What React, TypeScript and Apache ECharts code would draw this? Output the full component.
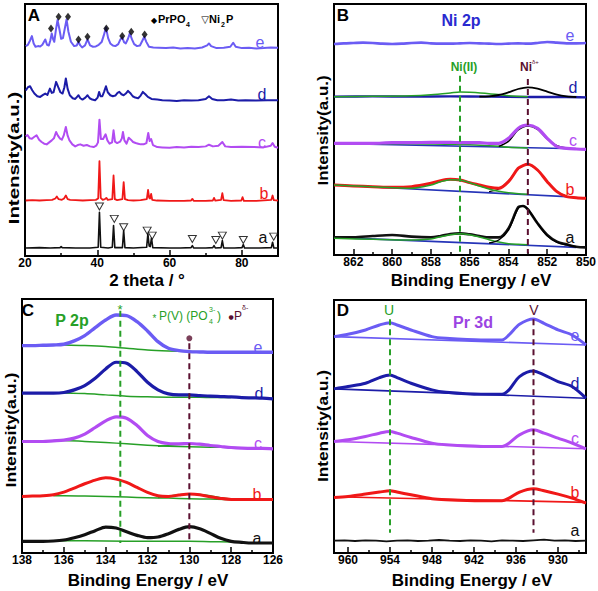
import { useEffect, useRef } from "react";
import * as echarts from "echarts";

// ================= DATA =================
// Panel A – XRD patterns (2θ, offset intensity)
const A_E = [[20.2,628],[20.8,632],[21.4,645],[21.9,658],[22.4,636],[22.9,626],[23.6,628],[24.2,627],[24.8,632],[25.6,648],[26.1,632],[26.6,630],[27.0,645],[27.4,666],[27.8,648],[28.1,641],[28.6,680],[29.0,706],[29.5,680],[30.0,650],[30.5,652],[31.0,680],[31.5,708],[32.0,672],[32.7,641],[33.6,628],[34.3,630],[34.8,641],[35.3,630],[35.8,624],[36.6,630],[37.3,648],[38.0,630],[38.8,626],[39.6,627],[40.4,632],[41.2,640],[41.8,660],[42.4,684],[43.0,652],[43.6,636],[44.3,630],[45.0,628],[45.8,634],[46.4,648],[46.9,654],[47.4,640],[47.9,636],[48.5,650],[49.0,666],[49.6,648],[50.2,634],[51.0,628],[51.8,630],[52.5,645],[53.0,656],[53.6,640],[54.3,626],[55.5,624],[57,623],[59,622],[61,624],[63,621],[65,622],[67,621],[69,624],[70.4,630],[70.9,636],[71.5,628],[73,622],[75,623],[76.8,626],[77.6,638],[78.3,626],[80,622],[82,623],[84,621],[86,622],[88,624],[90,623]];
const A_D = [[20.2,495],[20.8,505],[21.4,508],[22.0,496],[22.6,486],[23.4,478],[24.2,476],[25.0,482],[25.6,486],[26.2,482],[26.9,501],[27.4,488],[27.9,490],[28.6,521],[29.2,505],[29.8,490],[30.4,486],[30.9,505],[31.3,531],[31.8,500],[32.4,481],[33.2,472],[33.9,470],[34.4,476],[34.8,481],[35.3,472],[35.9,468],[36.7,474],[37.3,481],[37.9,472],[38.6,468],[39.4,466],[40.1,474],[40.5,491],[40.9,478],[41.4,478],[41.9,492],[42.4,508],[42.9,490],[43.6,481],[44.3,478],[45.0,480],[45.6,488],[46.1,491],[46.7,484],[47.3,481],[47.9,486],[48.5,494],[49.1,488],[49.8,478],[50.5,474],[51.3,472],[52.0,480],[52.6,491],[53.3,484],[54.0,476],[55,470],[56.6,468],[58,466],[60,465],[62,464],[64,466],[66,465],[68,466],[70,470],[70.9,478],[71.8,470],[73.2,466],[75,466],[77,468],[79,465],[81,466],[84,465],[87,466],[90,466]];
const A_C = [[20.2,358],[20.7,362],[21.3,352],[21.9,351],[22.5,356],[23.2,361],[23.9,348],[24.6,341],[25.3,336],[26.0,334],[26.7,340],[27.4,346],[28.0,352],[28.6,371],[29.1,360],[29.7,351],[30.2,348],[30.7,360],[31.3,386],[31.8,360],[32.3,346],[33.1,334],[33.9,328],[34.6,332],[35.3,334],[36.2,330],[37.1,332],[38.0,328],[39.0,326],[39.7,330],[40.2,340],[40.6,408],[41.0,350],[41.6,350],[42.3,364],[42.8,346],[43.4,336],[44.1,340],[44.5,376],[44.9,342],[45.5,338],[46.3,342],[46.8,352],[47.1,371],[47.5,346],[48.1,336],[48.7,354],[49.3,348],[49.9,341],[50.6,338],[51.3,336],[52.0,334],[52.8,334],[53.6,338],[54.1,368],[54.5,344],[54.9,350],[55.4,332],[56.6,326],[58,325],[60,324],[62,326],[64,325],[66,327],[68,326],[70,328],[70.9,333],[72,328],[73.5,330],[74.6,341],[75.4,328],[77,326],[80,327],[83.4,326],[86,325],[88,330],[88.5,338],[89.1,327],[90,324]];
const A_B = [[20.2,166],[22,167],[24,166],[26,167],[27.5,168],[28.4,172],[28.8,178],[29.3,170],[30.2,168],[30.8,172],[31.3,181],[31.8,170],[32.5,168],[34,167],[36,166],[38,167],[39.6,168],[40.25,172],[40.6,284],[40.95,174],[41.5,168],[42.1,170],[42.5,174],[42.9,168],[44.15,170],[44.5,241],[44.85,170],[45.5,167],[46.95,170],[47.3,221],[47.65,170],[48.5,167],[50,166],[52,167],[53.7,170],[54.05,198],[54.35,174],[54.6,172],[54.9,186],[55.2,168],[56.5,166],[60,165],[64,165],[65.95,166],[66.3,171],[66.65,165],[70,165],[71.95,166],[72.3,174],[72.65,166],[74.25,168],[74.6,188],[74.95,167],[77,165],[79.85,166],[80.2,176],[80.55,165],[84,165],[88.15,168],[88.5,181],[88.85,167],[90,166]];
const A_A = [[20.2,24],[24,25],[27,24],[29.7,25],[30,28],[30.3,25],[34,24],[38,24],[40.25,26],[40.6,131],[40.95,26],[43,24],[44.15,26],[44.5,91],[44.85,25],[46.95,25],[47.3,76],[47.65,25],[50,24],[53.65,26],[54.0,66],[54.35,30],[54.65,28],[55.0,54],[55.35,25],[60,24],[63,24],[65.95,25],[66.3,31],[66.65,24],[70,24],[71.95,25],[72.3,31],[72.65,24],[74.25,25],[74.6,46],[74.95,24],[78,24],[80.05,25],[80.4,34],[80.75,24],[85,24],[88.15,25],[88.5,41],[88.85,24],[90,24]];
const A_PRPO4_MARKS = [[27.2,681],[29.3,716],[31.9,716],[34.8,648],[37.3,656],[42.5,681],[46.9,658],[49.4,671],[53.1,663]];
const A_NI2P_MARKS = [[40.6,148],[44.7,111],[47.3,86],[53.8,76],[55.2,61],[66.3,51],[72.8,48],[74.6,61],[80.4,48],[88.8,58]];
const A_TICKS = [20, 40, 60, 80];
const A_MINOR = [30, 50, 70];

// Panel B – Ni 2p
const B_X = [863,862,861,860,859,858,857.5,857,856.5,856,855.5,855,854.5,854,853.5,853.25,853,852.5,852,851.5,851,850.5,850];
const B_A = [53,53,57,60,55,53,57,63,65,62,57,53,53,80,143,147,137,95,60,40,32,25,23];
const B_B = [210,207,205,203,205,215,223,227,225,217,210,203,200,220,260,268,272,255,220,190,175,172,170];
const B_C = [335,335,335,337,337,338,338,338,337,337,337,335,335,350,380,388,390,380,350,325,320,318,317];
const B_D = [[863,475],[861,476],[859,475],[857,476],[855,475],[853,474],[851,474],[850,473]];
const B_E = [[863,633],[862.5,635],[862,636],[861.5,637],[861,636],[860.5,634],[860,633],[859.5,634],[859,636],[858.5,637],[858,635],[857.5,634],[857,634],[856.5,635],[856,636],[855.5,635],[855,634],[854.5,633],[854,634],[853.5,635],[853,634],[852.5,636],[852,639],[851.5,637],[851,635],[850.5,635],[850,636]];
const B_BG_A = [[863,53],[850.5,23]];
const B_BG_B = [[863,210],[851,175]];
const B_BG_C = [[863,335],[850,318]];
const B_NI2_A = [[863,50],[861,47],[859,45],[858,48],[857.5,55],[857,61],[856.5,64],[856,61],[855.5,54],[855,46],[854.5,39],[854,34],[853.5,32],[853,31]];
const B_NI2_B = [[863,210],[861,205],[859,200],[858,210],[857.5,220],[857,226],[856.5,225],[856,217],[855.5,207],[855,198],[854.5,191],[854,187],[853,182]];
const B_NI2_C = [[863,335],[860,334],[858,333],[856,331],[855,328],[854.5,326],[854,323],[853,321]];
const B_NI2_D = [[863,475],[861,476],[859,478],[858,481],[857,486],[856.5,489],[856,488],[855,484],[854,478],[853,475]];
const B_NID_A = [[855,36],[854.5,45],[854,75],[853.5,140],[853.25,147],[853,138],[852.5,95],[852,58],[851.5,38],[851,30],[850.5,25]];
const B_NID_B = [[855,190],[854.5,198],[854,222],[853.5,258],[853,271],[852.5,254],[852,219],[851.5,190],[851,177]];
const B_NID_C = [[854.5,326],[854,341],[853.5,375],[853,387],[852.5,377],[852,348],[851.5,328],[851,321]];
const B_NID_D = [[855.5,475],[855,476],[854.5,480],[854,488],[853.5,498],[853,503],[852.5,499],[852,490],[851.5,481],[851,476],[850.5,474]];
const B_NI2_POS = 856.5;
const B_NID_POS = 853;
const B_TICKS = [850, 852, 854, 856, 858, 860, 862];
const B_MINOR = [851, 853, 855, 857, 859, 861];

// Panel C – P 2p
const C_X = [138,137.5,137,136.5,136,135.5,135,134.5,134,133.5,133,132.5,132,131.5,131,130.5,130,129.5,129,128.5,128,127.5,127,126.5,126];
const C_E = [623,623,624,625,627,637,653,677,700,715,713,695,667,635,615,608,605,604,603,603,603,603,603,603,603];
const C_D = [480,480,480,480,482,490,503,525,553,573,570,545,513,490,478,475,475,473,471,470,469,467,466,465,463];
const C_C = [335,335,335,337,339,345,357,377,397,409,405,383,353,335,329,328,329,327,323,320,317,315,314,314,313];
const C_B = [170,171,172,175,183,195,208,219,226,222,212,197,182,172,170,174,177,175,169,164,161,161,161,161,161];
const C_A = [35,35,35,36,39,46,55,67,78,75,64,53,46,48,58,71,79,73,59,44,35,32,30,30,30];
const C_BG_E = [[136.5,625],[136,625],[135,623],[134,620],[133,615],[132,610],[131,607],[130,605],[129,604],[128,603]];
const C_BG_D = [[136.5,481],[136,481],[135,479],[134,475],[133,471],[132,469],[131,468],[130,468],[129,467],[128,467]];
const C_BG_C = [[136.5,338],[136,338],[135,335],[134,332],[133,328],[132,324],[131,321],[130,319],[129,318],[128,317],[127.5,316]];
const C_BG_B = [[136.5,172],[136,172],[135,171],[134,170],[133,168],[132,166],[131,165],[130,163],[129,162],[128,161],[127.5,161]];
const C_BG_A = [[136.5,37],[136,37],[134,36],[132,35],[130,35],[129,34],[128,33]];
const C_PD_C = [[131.5,321],[131,323],[130.5,326],[130,328],[129.5,327],[129,323],[128.5,319],[128,317]];
const C_PD_B = [[131.5,167],[131,171],[130.5,175],[130,177],[129.5,176],[129,172],[128.5,166],[128,162]];
const C_PV_POS = 133.3;
const C_PD_POS = 130;
const C_TICKS = [126, 128, 130, 132, 134, 136, 138];
const C_MINOR = [127, 129, 131, 133, 135, 137];

// Panel D – Pr 3d
const D_X = [962,960,957.5,955.5,954,953,951,948,946,941,938,937,935.5,933.5,932,930,928,926];
const D_E = [650,657,670,685,692,685,670,650,645,640,640,655,687,703,690,670,655,625];
const D_D = [493,500,510,527,535,527,510,490,483,477,477,490,530,547,535,515,500,465];
const D_C = [335,340,350,360,365,360,347,330,325,320,320,330,355,370,360,345,330,313];
const D_B = [167,170,177,183,187,183,175,163,160,157,157,165,183,193,187,177,165,150];
const D_A = [[962,37],[960.5,38],[959,36],[957.5,38],[956,37],[954.5,35],[953,37],[951.5,38],[950,36],[948.5,37],[947,39],[945.5,37],[944,36],[942.5,38],[941,37],[939.5,35],[938,38],[936.5,37],[935,36],[933.5,38],[932,40],[930.5,37],[929,38],[927.5,36],[926,37]];
const D_BG_E = [[962,650],[926,625]];
const D_BG_D = [[962,493],[926,465]];
const D_BG_C = [[962,335],[926,313]];
const D_BG_B = [[962,169],[926,152]];
const D_U_POS = 954;
const D_V_POS = 933.5;
const D_TICKS = [930, 936, 942, 948, 954, 960];
const D_MINOR = [927, 933, 939, 945, 951, 957];

// ================= STYLE =================
const FONT = "'Liberation Sans', Arial, Helvetica, sans-serif";
const COL = { a: "#111111", b: "#f01818", c: "#b24cf2", d: "#1c1ca8", e: "#6b5cf4" };
const GREEN = "#27a027";
const BGBLUE = "#2634b8";
const MAROON = "#5a1030";

const GRIDS = [
  { left: 25, top: 4, width: 253, height: 252 },
  { left: 334, top: 4, width: 252, height: 251 },
  { left: 22, top: 299, width: 251, height: 254 },
  { left: 334, top: 300, width: 252, height: 253 },
];
const AXES = [
  { min: 20, max: 90, inverse: false, major: A_TICKS, minor: A_MINOR, ymax: 754 },
  { min: 850, max: 863, inverse: true, major: B_TICKS, minor: B_MINOR, ymax: 753 },
  { min: 126, max: 138, inverse: true, major: C_TICKS, minor: C_MINOR, ymax: 763 },
  { min: 926, max: 962, inverse: true, major: D_TICKS, minor: D_MINOR, ymax: 760 },
];

const zip = (xs: number[], ys: number[]) => xs.map((x, i) => [x, ys[i]]);

function ln(g: number, data: any[], color: string, width: number, o: any = {}) {
  return {
    type: "line", xAxisIndex: g * 2, yAxisIndex: g, data, symbol: "none", showSymbol: false,
    silent: true, smooth: o.smooth ?? 0, z: o.z ?? 3,
    lineStyle: { color, width, type: o.dash ? [6, 4] : "solid", cap: "butt", join: "round" },
  };
}

function txt(x: number, y: number, text: string, o: any = {}) {
  return {
    type: "text", x, y, rotation: o.rot ?? 0, scaleX: o.sx ?? 1, scaleY: o.sy ?? 1, silent: true, z: 100,
    style: {
      text, fill: o.color ?? "#000", fontSize: o.size ?? 14, fontWeight: o.bold ? "bold" : "normal",
      fontFamily: o.family ?? FONT, align: o.align ?? "center", verticalAlign: o.va ?? "middle",
    },
  };
}

function buildOption() {
  const grid = GRIDS.map((g) => ({ ...g, show: true, borderColor: "#000", borderWidth: 2, backgroundColor: "transparent", containLabel: false, outerBoundsMode: "none" }));
  const xAxis: any[] = [];
  const yAxis: any[] = [];
  AXES.forEach((ax, g) => {
    xAxis.push({
      type: "value", gridIndex: g, min: ax.min, max: ax.max, inverse: ax.inverse, position: "bottom",
      axisLine: { show: false }, splitLine: { show: false },
      axisTick: { show: true, inside: true, length: 6, customValues: ax.major, lineStyle: { color: "#000", width: 1.5 } },
      axisLabel: { show: true, customValues: ax.major, margin: 1, color: "#000", fontSize: 12, fontWeight: "bold", fontFamily: FONT, formatter: (v: number) => String(v) },
    });
    xAxis.push({
      type: "value", gridIndex: g, min: ax.min, max: ax.max, inverse: ax.inverse, position: "bottom",
      axisLine: { show: false }, splitLine: { show: false }, axisLabel: { show: false },
      axisTick: { show: true, inside: true, length: 3, customValues: ax.minor, lineStyle: { color: "#000", width: 1.5 } },
    });
    yAxis.push({ type: "value", gridIndex: g, min: 0, max: ax.ymax, show: false });
  });

  const S = 0.3;
  const series: any[] = [
    // ---- A ----
    ln(0, A_A, COL.a, 1.6),
    ln(0, A_B, COL.b, 1.8),
    ln(0, A_C, COL.c, 2),
    ln(0, A_D, COL.d, 2),
    ln(0, A_E, COL.e, 2),
    { type: "scatter", xAxisIndex: 0, yAxisIndex: 0, data: A_PRPO4_MARKS, symbol: "diamond", symbolSize: [6, 8], itemStyle: { color: "#000" }, silent: true, z: 6 },
    { type: "scatter", xAxisIndex: 0, yAxisIndex: 0, data: A_NI2P_MARKS, symbol: "triangle", symbolRotate: 180, symbolSize: [8, 7], itemStyle: { color: "#fff", borderColor: "#000", borderWidth: 1 }, silent: true, z: 6 },

    // ---- B ----
    ln(1, B_BG_A, BGBLUE, 1.6, { z: 2 }),
    ln(1, B_BG_B, BGBLUE, 1.6, { z: 2 }),
    ln(1, B_BG_C, BGBLUE, 1.6, { z: 2 }),
    ln(1, zip(B_X, B_A), COL.a, 2.6, { smooth: S, z: 4 }),
    ln(1, zip(B_X, B_B), COL.b, 3, { smooth: S, z: 4 }),
    ln(1, zip(B_X, B_C), COL.c, 3.2, { smooth: S, z: 4 }),
    ln(1, B_D, COL.d, 2.4, { smooth: S, z: 3 }),
    ln(1, B_E, COL.e, 2.6, { smooth: S, z: 4 }),
    ln(1, B_NI2_A, GREEN, 1.5, { smooth: S, z: 5 }),
    ln(1, B_NI2_B, GREEN, 1.5, { smooth: S, z: 5 }),
    ln(1, B_NI2_C, GREEN, 1.5, { smooth: S, z: 3 }),
    ln(1, B_NI2_D, GREEN, 1.5, { smooth: S, z: 4 }),
    ln(1, B_NID_A, "#000", 1.5, { smooth: S, z: 5 }),
    ln(1, B_NID_B, "#000", 1.2, { smooth: S, z: 3 }),
    ln(1, B_NID_C, "#000", 1.5, { smooth: S, z: 3 }),
    ln(1, B_NID_D, "#000", 1.8, { smooth: S, z: 4 }),
    ln(1, [[B_NI2_POS, 538], [B_NI2_POS, 5]], GREEN, 2, { dash: true, z: 6 }),
    ln(1, [[B_NID_POS, 528], [B_NID_POS, 5]], MAROON, 2, { dash: true, z: 6 }),

    // ---- C ----
    ln(2, C_BG_E, GREEN, 1.5, { smooth: S, z: 2 }),
    ln(2, C_BG_D, GREEN, 1.5, { smooth: S, z: 2 }),
    ln(2, C_BG_C, GREEN, 1.5, { smooth: S, z: 2 }),
    ln(2, C_BG_B, GREEN, 1.5, { smooth: S, z: 2 }),
    ln(2, C_BG_A, GREEN, 1.5, { smooth: S, z: 2 }),
    ln(2, C_PD_C, GREEN, 1.5, { smooth: S, z: 2 }),
    ln(2, C_PD_B, GREEN, 1.5, { smooth: S, z: 2 }),
    ln(2, zip(C_X, C_A), COL.a, 3.2, { smooth: S }),
    ln(2, zip(C_X, C_B), COL.b, 3, { smooth: S }),
    ln(2, zip(C_X, C_C), COL.c, 3.2, { smooth: S }),
    ln(2, zip(C_X, C_D), COL.d, 3.2, { smooth: S }),
    ln(2, zip(C_X, C_E), COL.e, 3.4, { smooth: S }),
    ln(2, [[C_PV_POS, 728], [C_PV_POS, 30]], GREEN, 2, { dash: true, z: 6 }),
    ln(2, [[C_PD_POS, 630], [C_PD_POS, 30]], MAROON, 2, { dash: true, z: 6 }),
    { type: "scatter", xAxisIndex: 4, yAxisIndex: 2, data: [[C_PD_POS, 645]], symbol: "circle", symbolSize: 6, itemStyle: { color: MAROON }, silent: true, z: 6 },

    // ---- D ----
    ln(3, D_BG_E, COL.e, 1.6, { z: 2 }),
    ln(3, D_BG_D, COL.d, 1.6, { z: 2 }),
    ln(3, D_BG_C, COL.c, 1.6, { z: 2 }),
    ln(3, D_BG_B, COL.b, 1.6, { z: 2 }),
    ln(3, D_A, COL.a, 1.8),
    ln(3, zip(D_X, D_B), COL.b, 3, { smooth: S }),
    ln(3, zip(D_X, D_C), COL.c, 3, { smooth: S }),
    ln(3, zip(D_X, D_D), COL.d, 3, { smooth: S }),
    ln(3, zip(D_X, D_E), COL.e, 3, { smooth: S }),
    ln(3, [[D_U_POS, 702], [D_U_POS, 61]], GREEN, 2, { dash: true, z: 6 }),
    ln(3, [[D_V_POS, 702], [D_V_POS, 61]], MAROON, 2, { dash: true, z: 6 }),
  ];

  const LET = 16;
  const graphic: any[] = [
    // Panel A
    txt(34, 15, "A", { bold: true, size: 17 }),
    txt(154, 20, "◆", { size: 8, family: "DejaVu Sans" }),
    txt(158, 19, "PrPO", { bold: true, size: 11, align: "left" }),
    txt(186, 24, "4", { bold: true, size: 7, align: "left" }),
    txt(205, 19, "▽", { size: 10, family: "DejaVu Sans" }),
    txt(209, 19, "Ni", { bold: true, size: 11, align: "left" }),
    txt(221, 24, "2", { bold: true, size: 7, align: "left" }),
    txt(226, 19, "P", { bold: true, size: 11, align: "left" }),
    txt(260, 42, "e", { color: COL.e, size: LET }),
    txt(262, 94, "d", { color: COL.d, size: LET }),
    txt(262, 142, "c", { color: COL.c, size: LET }),
    txt(264, 193, "b", { color: COL.b, size: LET }),
    txt(263, 237, "a", { color: COL.a, size: LET }),
    txt(147, 280, "2 theta / °", { bold: true, size: 17 }),
    txt(13.5, 158, "Intensity(a.u.)", { bold: true, size: 15, rot: Math.PI / 2, sx: 1.36 }),

    // Panel B
    txt(343, 15, "B", { bold: true, size: 17 }),
    txt(461, 20, "Ni 2p", { bold: true, size: 16, color: "#2a2ad0" }),
    txt(464, 67, "Ni(II)", { bold: true, size: 12, color: GREEN }),
    txt(526, 67, "Ni", { bold: true, size: 12, color: MAROON }),
    txt(532, 62, "δ+", { size: 6, color: MAROON, align: "left" }),
    txt(570, 35, "e", { color: COL.e, size: LET }),
    txt(573, 87, "d", { color: COL.d, size: LET }),
    txt(573, 140, "c", { color: COL.c, size: LET }),
    txt(570, 189, "b", { color: COL.b, size: LET }),
    txt(570, 237, "a", { color: COL.a, size: LET }),
    txt(471, 280, "Binding Energy / eV", { bold: true, size: 17 }),
    txt(323, 130.5, "Intensity(a.u.)", { bold: true, size: 15, rot: Math.PI / 2, sx: 1.13 }),

    // Panel C
    txt(28, 310, "C", { bold: true, size: 17 }),
    txt(72, 320, "P 2p", { bold: true, size: 16, color: GREEN }),
    txt(120, 309, "*", { size: 13, color: GREEN }),
    txt(154.5, 318, "*", { size: 10, color: GREEN }),
    txt(159, 316, "P(V) (PO", { size: 12, color: GREEN, align: "left" }),
    txt(209, 321, "4", { size: 7, color: GREEN, align: "left" }),
    txt(209, 309, "3-", { size: 7, color: GREEN, align: "left" }),
    txt(217, 316, ")", { size: 12, color: GREEN, align: "left" }),
    txt(231, 316, "●", { size: 6, color: MAROON, family: "DejaVu Sans" }),
    txt(234, 316, "P", { size: 12, color: MAROON, align: "left" }),
    txt(242, 307, "δ-", { size: 7, color: MAROON, align: "left" }),
    txt(258, 347, "e", { color: COL.e, size: LET }),
    txt(259, 393, "d", { color: COL.d, size: LET }),
    txt(258, 443, "c", { color: COL.c, size: LET }),
    txt(257, 494, "b", { color: COL.b, size: LET }),
    txt(257, 538, "a", { color: COL.a, size: LET }),
    txt(148, 580, "Binding Energy / eV", { bold: true, size: 17 }),
    txt(11, 430, "Intensity(a.u.)", { bold: true, size: 15, rot: Math.PI / 2, sx: 1.18 }),

    // Panel D
    txt(343, 310, "D", { bold: true, size: 17 }),
    txt(389, 310, "U", { size: 14, color: GREEN }),
    txt(534, 310, "V", { size: 14, color: MAROON }),
    txt(473, 322, "Pr 3d", { bold: true, size: 16, color: "#9b44e2" }),
    txt(575, 335, "e", { color: COL.e, size: LET }),
    txt(575, 383, "d", { color: COL.d, size: LET }),
    txt(575, 438, "c", { color: COL.c, size: LET }),
    txt(575, 492, "b", { color: COL.b, size: LET }),
    txt(575, 530, "a", { color: COL.a, size: LET }),
    txt(472, 580, "Binding Energy / eV", { bold: true, size: 17 }),
    txt(322, 426, "Intensity(a.u.)", { bold: true, size: 15, rot: Math.PI / 2, sx: 1.15 }),
  ];

  return { animation: false, backgroundColor: "#fff", grid, xAxis, yAxis, series, graphic };
}

export default function App() {
  const ref = useRef<HTMLDivElement>(null);
  useEffect(() => {
    const chart = echarts.init(ref.current!, null, { renderer: "svg" });
    chart.setOption(buildOption() as any);
    return () => chart.dispose();
  }, []);
  return (
    <div
      ref={ref}
      style={{ position: "fixed", left: 0, top: 0, width: 598, height: 591, background: "#fff" }}
    />
  );
}
